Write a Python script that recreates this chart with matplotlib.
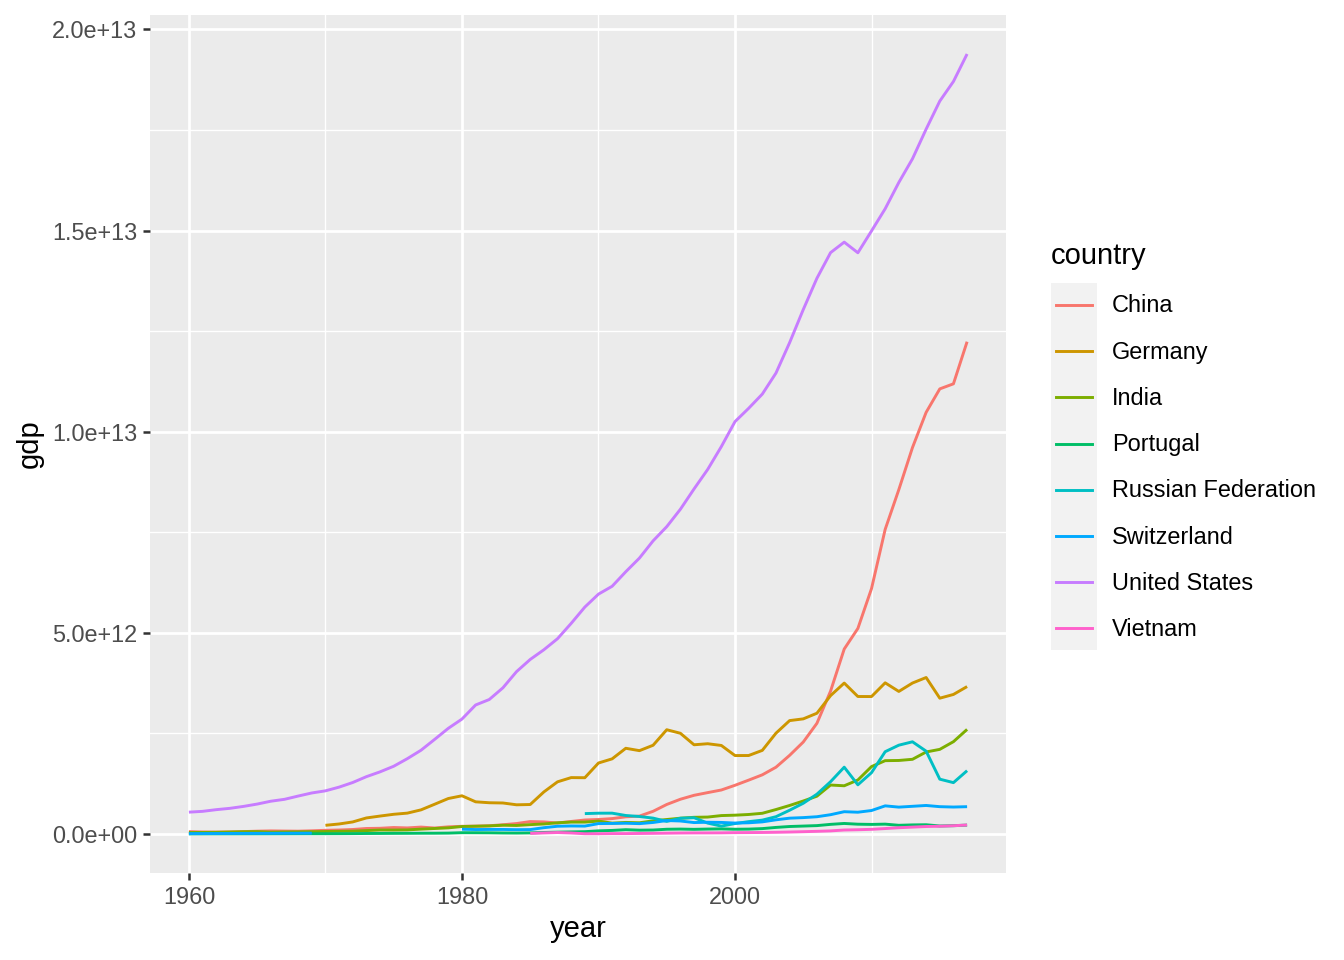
import numpy as np
import matplotlib
matplotlib.use("Agg")
from matplotlib import pyplot as plt
import matplotlib.ticker as ticker
from matplotlib.lines import Line2D
from matplotlib.patches import Rectangle

plt.rcParams['font.family'] = ['Liberation Sans', 'DejaVu Sans']

nan = np.nan
years = list(range(1960, 2018))

# gdp in trillions of USD
china = [0.060, 0.050, 0.047, 0.051, 0.060, 0.070, 0.077, 0.073, 0.070, 0.079,
         0.092, 0.099, 0.112, 0.137, 0.142, 0.161, 0.151, 0.172, 0.149, 0.178,
         0.191, 0.196, 0.205, 0.230, 0.260, 0.309, 0.301, 0.273, 0.312, 0.348,
         0.361, 0.383, 0.427, 0.445, 0.564, 0.734, 0.864, 0.962, 1.029, 1.094,
         1.211, 1.339, 1.471, 1.660, 1.955, 2.286, 2.752, 3.552, 4.598, 5.110,
         6.101, 7.573, 8.561, 9.607, 10.482, 11.065, 11.191, 12.238]
germany = [nan] * 10 + [
    0.216, 0.249, 0.300, 0.399, 0.446, 0.490, 0.519, 0.600, 0.740, 0.882,
    0.950, 0.800, 0.777, 0.771, 0.726, 0.733, 1.046, 1.297, 1.402, 1.399,
    1.765, 1.868, 2.131, 2.072, 2.206, 2.592, 2.504, 2.218, 2.244, 2.201,
    1.950, 1.951, 2.079, 2.506, 2.819, 2.862, 3.002, 3.440, 3.752, 3.418,
    3.417, 3.758, 3.544, 3.753, 3.890, 3.376, 3.469, 3.665]
india = [0.037, 0.039, 0.042, 0.049, 0.056, 0.059, 0.046, 0.050, 0.053, 0.058,
         0.062, 0.067, 0.071, 0.085, 0.099, 0.098, 0.102, 0.121, 0.137, 0.153,
         0.186, 0.193, 0.201, 0.218, 0.212, 0.233, 0.249, 0.279, 0.296, 0.296,
         0.321, 0.270, 0.288, 0.279, 0.327, 0.360, 0.393, 0.415, 0.421, 0.458,
         0.468, 0.485, 0.515, 0.608, 0.709, 0.820, 0.940, 1.217, 1.199, 1.342,
         1.676, 1.823, 1.828, 1.857, 2.039, 2.104, 2.295, 2.600]
portugal = [0.0032, 0.0033, 0.0036, 0.0039, 0.0042, 0.0046, 0.0050, 0.0056, 0.0062, 0.0068,
            0.0073, 0.0081, 0.0097, 0.0125, 0.0141, 0.0161, 0.0171, 0.0193, 0.0197, 0.0223,
            0.0325, 0.0313, 0.0298, 0.0255, 0.0235, 0.0271, 0.0380, 0.0456, 0.0523, 0.0581,
            0.0784, 0.0890, 0.1074, 0.0955, 0.0989, 0.1179, 0.1224, 0.1161, 0.1229, 0.1276,
            0.1184, 0.1217, 0.1342, 0.1636, 0.1863, 0.1972, 0.2085, 0.2396, 0.2620, 0.2437,
            0.2383, 0.2451, 0.2164, 0.2261, 0.2299, 0.1993, 0.2064, 0.2213]
russia = [nan] * 29 + [
    0.507,
    0.517, 0.518, 0.460, 0.435, 0.395, 0.313, 0.392, 0.405, 0.271, 0.196,
    0.260, 0.307, 0.345, 0.430, 0.591, 0.764, 0.990, 1.300, 1.661, 1.223,
    1.525, 2.046, 2.208, 2.292, 2.059, 1.363, 1.277, 1.574]
switzerland = [0.0095, 0.0107, 0.0119, 0.0130, 0.0143, 0.0153, 0.0165, 0.0178, 0.0190, 0.0207] + [nan] * 10 + [
    0.1187, 0.1110, 0.1131, 0.1131, 0.1076, 0.1100, 0.1570, 0.1930, 0.1996, 0.1966,
    0.2585, 0.2627, 0.2674, 0.2576, 0.2866, 0.3345, 0.3233, 0.2843, 0.2922, 0.2875,
    0.2717, 0.2786, 0.3014, 0.3526, 0.3935, 0.4075, 0.4292, 0.4799, 0.5544, 0.5415,
    0.5838, 0.6996, 0.6680, 0.6885, 0.7092, 0.6793, 0.6702, 0.6790]
united_states = [0.543, 0.563, 0.605, 0.638, 0.686, 0.744, 0.815, 0.862, 0.943, 1.020,
                 1.073, 1.165, 1.280, 1.425, 1.545, 1.684, 1.873, 2.082, 2.352, 2.627,
                 2.857, 3.207, 3.343, 3.634, 4.037, 4.339, 4.580, 4.855, 5.236, 5.641,
                 5.963, 6.158, 6.520, 6.859, 7.287, 7.640, 8.073, 8.578, 9.063, 9.631,
                 10.252, 10.582, 10.936, 11.458, 12.214, 13.037, 13.815, 14.452, 14.713, 14.449,
                 14.992, 15.543, 16.197, 16.785, 17.522, 18.219, 18.707, 19.390]
vietnam = [nan] * 25 + [
    0.0141, 0.0263, 0.0367, 0.0254, 0.0063,
    0.0065, 0.0096, 0.0099, 0.0132, 0.0163, 0.0207, 0.0247, 0.0268, 0.0272, 0.0287,
    0.0336, 0.0353, 0.0379, 0.0427, 0.0494, 0.0576, 0.0664, 0.0774, 0.0991, 0.1060,
    0.1159, 0.1355, 0.1558, 0.1712, 0.1862, 0.1932, 0.2053, 0.2238]

countries = ["China", "Germany", "India", "Portugal", "Russian Federation",
             "Switzerland", "United States", "Vietnam"]
series = [china, germany, india, portugal, russia, switzerland, united_states, vietnam]
colors = ["#F8766D", "#CD9600", "#7CAE00", "#00BE67", "#00BFC4", "#00A9FF",
          "#C77CFF", "#FF61CC"]

W, H = 1344, 960
fig = plt.figure(figsize=(W / 100, H / 100), dpi=100)
ax = fig.add_axes([150 / W, 1 - 873 / H, (1006 - 150) / W, (873 - 15) / H])
ax.set_facecolor("#EBEBEB")

lw = 2.1
for name, vals, c in zip(countries, series, colors):
    ax.plot(years, np.array(vals) * 1e12, color=c, lw=lw, solid_capstyle="butt")

# ggplot-style 5% expansion
ax.set_xlim(1960 - 57 * 0.05, 2017 + 57 * 0.05)
ymax = np.nanmax(np.concatenate([np.array(s, dtype=float) for s in series])) * 1e12
ax.set_ylim(-0.05 * ymax, ymax * 1.05)

ax.xaxis.set_major_locator(ticker.FixedLocator([1960, 1980, 2000]))
ax.xaxis.set_minor_locator(ticker.FixedLocator([1970, 1990, 2010]))
ax.yaxis.set_major_locator(ticker.MultipleLocator(5e12))
ax.yaxis.set_minor_locator(ticker.FixedLocator([2.5e12, 7.5e12, 12.5e12, 17.5e12]))


def sci_fmt(v, pos):
    m, e = f"{v:.1e}".split("e")
    return f"{m}e{'+' if int(e) >= 0 else '-'}{abs(int(e)):02d}"


ax.yaxis.set_major_formatter(ticker.FuncFormatter(sci_fmt))

ax.grid(which="major", color="white", lw=2.0)
ax.grid(which="minor", color="white", lw=1.0)
ax.set_axisbelow(True)
for s in ax.spines.values():
    s.set_visible(False)
ax.tick_params(which="major", length=5, width=1.8, color="#333333",
               labelcolor="#4D4D4D", labelsize=16.9, pad=4)
ax.tick_params(which="minor", length=0)

ax.set_xlabel("year", fontsize=21, labelpad=5)
ax.set_ylabel("gdp", fontsize=21, labelpad=6)

# legend
fig.text(1051 / W, 1 - 256 / H, "country", fontsize=21, va="center", ha="left")
fig.add_artist(Rectangle((1051 / W, 1 - 650 / H), 46 / W, (650 - 283) / H,
                         transform=fig.transFigure, facecolor="#F2F2F2",
                         edgecolor="none"))
for i, (name, c) in enumerate(zip(countries, colors)):
    py = 305 + 46.2 * i
    fig.add_artist(Line2D([1056 / W, 1092 / W], [1 - py / H, 1 - py / H],
                          transform=fig.transFigure, color=c, lw=lw))
    fig.text(1112 / W, 1 - (py + 1) / H, name, fontsize=16.9, va="center", ha="left")

fig.savefig("out.png", dpi=100)
